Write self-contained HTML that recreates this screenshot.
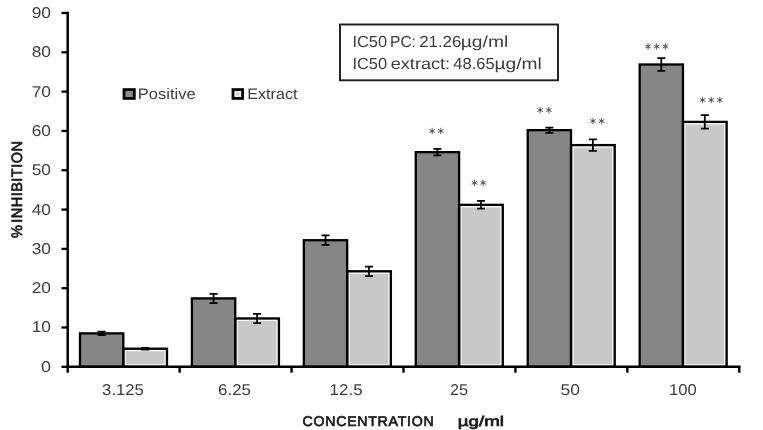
<!DOCTYPE html>
<html><head><meta charset="utf-8"><title>chart</title>
<style>html,body{margin:0;padding:0;background:#fff}svg{display:block;will-change:transform;filter:blur(0.4px)}text{font-family:"Liberation Sans",sans-serif;text-rendering:geometricPrecision}</style>
</head><body>
<svg width="763" height="430" viewBox="0 0 763 430">
<rect width="763" height="430" fill="#fff"/>
<rect x="80.00" y="333.39" width="43.30" height="33.41" fill="#868686"/>
<rect x="123.30" y="348.72" width="43.70" height="18.08" fill="#c8c8c8"/>
<rect x="125.15" y="350.57" width="40.00" height="14.38" fill="none" stroke="#f6f6f6" stroke-width="1.5"/>
<rect x="80.00" y="333.39" width="43.30" height="33.41" fill="none" stroke="#000" stroke-width="2.30"/>
<rect x="123.30" y="348.72" width="43.70" height="18.08" fill="none" stroke="#000" stroke-width="2.30"/>
<path d="M101.65 331.69V335.09M97.65 331.69h8M97.65 335.09h8" stroke="#000" stroke-width="1.75" fill="none"/>
<path d="M145.15 347.82V349.62M141.15 347.82h8M141.15 349.62h8" stroke="#000" stroke-width="1.75" fill="none"/>
<rect x="191.93" y="298.40" width="43.30" height="68.40" fill="#868686"/>
<rect x="235.23" y="318.45" width="43.70" height="48.35" fill="#c8c8c8"/>
<rect x="237.08" y="320.30" width="40.00" height="44.65" fill="none" stroke="#f6f6f6" stroke-width="1.5"/>
<rect x="191.93" y="298.40" width="43.30" height="68.40" fill="none" stroke="#000" stroke-width="2.30"/>
<rect x="235.23" y="318.45" width="43.70" height="48.35" fill="none" stroke="#000" stroke-width="2.30"/>
<path d="M213.58 293.80V303.00M209.58 293.80h8M209.58 303.00h8" stroke="#000" stroke-width="1.75" fill="none"/>
<path d="M257.08 313.75V323.15M253.08 313.75h8M253.08 323.15h8" stroke="#000" stroke-width="1.75" fill="none"/>
<rect x="303.86" y="240.22" width="43.30" height="126.58" fill="#868686"/>
<rect x="347.16" y="271.27" width="43.70" height="95.53" fill="#c8c8c8"/>
<rect x="349.01" y="273.12" width="40.00" height="91.83" fill="none" stroke="#f6f6f6" stroke-width="1.5"/>
<rect x="303.86" y="240.22" width="43.30" height="126.58" fill="none" stroke="#000" stroke-width="2.30"/>
<rect x="347.16" y="271.27" width="43.70" height="95.53" fill="none" stroke="#000" stroke-width="2.30"/>
<path d="M325.51 235.47V244.97M321.51 235.47h8M321.51 244.97h8" stroke="#000" stroke-width="1.75" fill="none"/>
<path d="M369.01 266.52V276.02M365.01 266.52h8M365.01 276.02h8" stroke="#000" stroke-width="1.75" fill="none"/>
<rect x="415.79" y="152.16" width="43.30" height="214.64" fill="#868686"/>
<rect x="459.09" y="204.84" width="43.70" height="161.96" fill="#c8c8c8"/>
<rect x="460.94" y="206.69" width="40.00" height="158.26" fill="none" stroke="#f6f6f6" stroke-width="1.5"/>
<rect x="415.79" y="152.16" width="43.30" height="214.64" fill="none" stroke="#000" stroke-width="2.30"/>
<rect x="459.09" y="204.84" width="43.70" height="161.96" fill="none" stroke="#000" stroke-width="2.30"/>
<path d="M437.44 148.91V155.41M433.44 148.91h8M433.44 155.41h8" stroke="#000" stroke-width="1.75" fill="none"/>
<path d="M480.94 200.94V208.74M476.94 200.94h8M476.94 208.74h8" stroke="#000" stroke-width="1.75" fill="none"/>
<rect x="527.72" y="130.15" width="43.30" height="236.65" fill="#868686"/>
<rect x="571.02" y="145.09" width="43.70" height="221.71" fill="#c8c8c8"/>
<rect x="572.87" y="146.94" width="40.00" height="218.01" fill="none" stroke="#f6f6f6" stroke-width="1.5"/>
<rect x="527.72" y="130.15" width="43.30" height="236.65" fill="none" stroke="#000" stroke-width="2.30"/>
<rect x="571.02" y="145.09" width="43.70" height="221.71" fill="none" stroke="#000" stroke-width="2.30"/>
<path d="M549.37 127.55V132.75M545.37 127.55h8M545.37 132.75h8" stroke="#000" stroke-width="1.75" fill="none"/>
<path d="M592.87 139.34V150.84M588.87 139.34h8M588.87 150.84h8" stroke="#000" stroke-width="1.75" fill="none"/>
<rect x="639.65" y="64.50" width="43.30" height="302.30" fill="#868686"/>
<rect x="682.95" y="121.89" width="43.70" height="244.91" fill="#c8c8c8"/>
<rect x="684.80" y="123.74" width="40.00" height="241.21" fill="none" stroke="#f6f6f6" stroke-width="1.5"/>
<rect x="639.65" y="64.50" width="43.30" height="302.30" fill="none" stroke="#000" stroke-width="2.30"/>
<rect x="682.95" y="121.89" width="43.70" height="244.91" fill="none" stroke="#000" stroke-width="2.30"/>
<path d="M661.30 58.20V70.80M657.30 58.20h8M657.30 70.80h8" stroke="#000" stroke-width="1.75" fill="none"/>
<path d="M704.80 115.09V128.69M700.80 115.09h8M700.80 128.69h8" stroke="#000" stroke-width="1.75" fill="none"/>
<path d="M67.70 11.75V368.05M66.45 366.80H740.53" stroke="#000" stroke-width="2.50" fill="none"/>
<path d="M61.50 366.80H67.70" stroke="#000" stroke-width="2.3"/>
<text x="41.08" y="371.80" font-size="15.6" fill="#3e3e3e" textLength="10.01" lengthAdjust="spacingAndGlyphs">0</text>
<path d="M61.50 327.49H67.70" stroke="#000" stroke-width="2.3"/>
<text x="31.67" y="332.49" font-size="15.6" fill="#3e3e3e" textLength="19.31" lengthAdjust="spacingAndGlyphs">10</text>
<path d="M61.50 288.18H67.70" stroke="#000" stroke-width="2.3"/>
<text x="31.67" y="293.18" font-size="15.6" fill="#3e3e3e" textLength="19.31" lengthAdjust="spacingAndGlyphs">20</text>
<path d="M61.50 248.87H67.70" stroke="#000" stroke-width="2.3"/>
<text x="31.67" y="253.87" font-size="15.6" fill="#3e3e3e" textLength="19.31" lengthAdjust="spacingAndGlyphs">30</text>
<path d="M61.50 209.56H67.70" stroke="#000" stroke-width="2.3"/>
<text x="31.67" y="214.56" font-size="15.6" fill="#3e3e3e" textLength="19.31" lengthAdjust="spacingAndGlyphs">40</text>
<path d="M61.50 170.24H67.70" stroke="#000" stroke-width="2.3"/>
<text x="31.67" y="175.24" font-size="15.6" fill="#3e3e3e" textLength="19.31" lengthAdjust="spacingAndGlyphs">50</text>
<path d="M61.50 130.93H67.70" stroke="#000" stroke-width="2.3"/>
<text x="31.67" y="135.93" font-size="15.6" fill="#3e3e3e" textLength="19.31" lengthAdjust="spacingAndGlyphs">60</text>
<path d="M61.50 91.62H67.70" stroke="#000" stroke-width="2.3"/>
<text x="31.67" y="96.62" font-size="15.6" fill="#3e3e3e" textLength="19.31" lengthAdjust="spacingAndGlyphs">70</text>
<path d="M61.50 52.31H67.70" stroke="#000" stroke-width="2.3"/>
<text x="31.67" y="57.31" font-size="15.6" fill="#3e3e3e" textLength="19.31" lengthAdjust="spacingAndGlyphs">80</text>
<path d="M61.50 13.00H67.70" stroke="#000" stroke-width="2.3"/>
<text x="31.67" y="18.00" font-size="15.6" fill="#3e3e3e" textLength="19.31" lengthAdjust="spacingAndGlyphs">90</text>
<path d="M67.70 366.80V372.70" stroke="#000" stroke-width="2.4"/>
<path d="M179.63 366.80V372.70" stroke="#000" stroke-width="2.4"/>
<path d="M291.56 366.80V372.70" stroke="#000" stroke-width="2.4"/>
<path d="M403.49 366.80V372.70" stroke="#000" stroke-width="2.4"/>
<path d="M515.42 366.80V372.70" stroke="#000" stroke-width="2.4"/>
<path d="M627.35 366.80V372.70" stroke="#000" stroke-width="2.4"/>
<path d="M739.28 366.80V372.70" stroke="#000" stroke-width="2.4"/>
<text x="102.13" y="394.80" font-size="15.6" fill="#3e3e3e" textLength="41.67" lengthAdjust="spacingAndGlyphs">3.125</text>
<text x="218.09" y="394.80" font-size="15.6" fill="#3e3e3e" textLength="32.87" lengthAdjust="spacingAndGlyphs">6.25</text>
<text x="329.64" y="394.80" font-size="15.6" fill="#3e3e3e" textLength="32.92" lengthAdjust="spacingAndGlyphs">12.5</text>
<text x="449.92" y="394.80" font-size="15.6" fill="#3e3e3e" textLength="18.12" lengthAdjust="spacingAndGlyphs">25</text>
<text x="560.50" y="394.80" font-size="15.6" fill="#3e3e3e" textLength="19.38" lengthAdjust="spacingAndGlyphs">50</text>
<text x="668.97" y="394.80" font-size="15.6" fill="#3e3e3e" textLength="27.73" lengthAdjust="spacingAndGlyphs">100</text>
<circle cx="432.18" cy="131.00" r="1.0" fill="#4a4a4a"/>
<circle cx="440.82" cy="131.00" r="1.0" fill="#4a4a4a"/>
<path d="M432.18 127.80L432.18 134.20M429.40 129.40L434.95 132.60M434.95 129.40L429.40 132.60M440.82 127.80L440.82 134.20M438.05 129.40L443.60 132.60M443.60 129.40L438.05 132.60" stroke="#505050" stroke-width="0.95" fill="none"/>
<circle cx="474.48" cy="182.80" r="1.0" fill="#4a4a4a"/>
<circle cx="483.12" cy="182.80" r="1.0" fill="#4a4a4a"/>
<path d="M474.48 179.60L474.48 186.00M471.70 181.20L477.25 184.40M477.25 181.20L471.70 184.40M483.12 179.60L483.12 186.00M480.35 181.20L485.90 184.40M485.90 181.20L480.35 184.40" stroke="#505050" stroke-width="0.95" fill="none"/>
<circle cx="540.17" cy="110.10" r="1.0" fill="#4a4a4a"/>
<circle cx="548.83" cy="110.10" r="1.0" fill="#4a4a4a"/>
<path d="M540.17 106.90L540.17 113.30M537.40 108.50L542.95 111.70M542.95 108.50L537.40 111.70M548.83 106.90L548.83 113.30M546.05 108.50L551.60 111.70M551.60 108.50L546.05 111.70" stroke="#505050" stroke-width="0.95" fill="none"/>
<circle cx="592.97" cy="121.10" r="1.0" fill="#4a4a4a"/>
<circle cx="601.62" cy="121.10" r="1.0" fill="#4a4a4a"/>
<path d="M592.97 117.90L592.97 124.30M590.20 119.50L595.75 122.70M595.75 119.50L590.20 122.70M601.62 117.90L601.62 124.30M598.85 119.50L604.40 122.70M604.40 119.50L598.85 122.70" stroke="#505050" stroke-width="0.95" fill="none"/>
<circle cx="648.05" cy="46.50" r="1.0" fill="#4a4a4a"/>
<circle cx="656.70" cy="46.50" r="1.0" fill="#4a4a4a"/>
<circle cx="665.35" cy="46.50" r="1.0" fill="#4a4a4a"/>
<path d="M648.05 43.30L648.05 49.70M645.28 44.90L650.82 48.10M650.82 44.90L645.28 48.10M656.70 43.30L656.70 49.70M653.93 44.90L659.47 48.10M659.47 44.90L653.93 48.10M665.35 43.30L665.35 49.70M662.58 44.90L668.12 48.10M668.12 44.90L662.58 48.10" stroke="#505050" stroke-width="0.95" fill="none"/>
<circle cx="702.55" cy="100.00" r="1.0" fill="#4a4a4a"/>
<circle cx="711.20" cy="100.00" r="1.0" fill="#4a4a4a"/>
<circle cx="719.85" cy="100.00" r="1.0" fill="#4a4a4a"/>
<path d="M702.55 96.80L702.55 103.20M699.78 98.40L705.32 101.60M705.32 98.40L699.78 101.60M711.20 96.80L711.20 103.20M708.43 98.40L713.97 101.60M713.97 98.40L708.43 101.60M719.85 96.80L719.85 103.20M717.08 98.40L722.62 101.60M722.62 98.40L717.08 101.60" stroke="#505050" stroke-width="0.95" fill="none"/>
<rect x="124" y="89.6" width="10.3" height="8.8" fill="#8a8a8a" stroke="#000" stroke-width="2.8"/>
<rect x="233" y="89.6" width="9.6" height="8.8" fill="#f0f0f0" stroke="#000" stroke-width="2.8"/>
<rect x="236.1" y="92.7" width="3.4" height="2.6" fill="#cfcfcf"/>
<text x="137.84" y="99.00" font-size="15.2" fill="#3e3e3e" textLength="57.81" lengthAdjust="spacingAndGlyphs">Positive</text>
<text x="247.27" y="99.00" font-size="15.2" fill="#3e3e3e" textLength="50.18" lengthAdjust="spacingAndGlyphs">Extract</text>
<rect x="340" y="24.5" width="218" height="55.8" fill="#fff" stroke="#1c1c1c" stroke-width="1.9"/>
<text x="352.46" y="47.00" font-size="16" fill="#3e3e3e" textLength="34.63" lengthAdjust="spacingAndGlyphs">IC50</text>
<text x="390.07" y="47.00" font-size="16" fill="#3e3e3e" textLength="25.81" lengthAdjust="spacingAndGlyphs">PC:</text>
<text x="419.21" y="47.00" font-size="16" fill="#3e3e3e" textLength="42.09" lengthAdjust="spacingAndGlyphs">21.26</text>
<text x="460.74" y="47.00" font-size="16" fill="#3e3e3e" textLength="47.56" lengthAdjust="spacingAndGlyphs">µg/ml</text>
<text x="352.46" y="69.00" font-size="16" fill="#3e3e3e" textLength="34.63" lengthAdjust="spacingAndGlyphs">IC50</text>
<text x="390.69" y="69.00" font-size="16" fill="#3e3e3e" textLength="59.47" lengthAdjust="spacingAndGlyphs">extract:</text>
<text x="453.31" y="69.00" font-size="16" fill="#3e3e3e" textLength="41.38" lengthAdjust="spacingAndGlyphs">48.65</text>
<text x="494.55" y="69.00" font-size="16" fill="#3e3e3e" textLength="47.34" lengthAdjust="spacingAndGlyphs">µg/ml</text>
<text x="302.59" y="425.60" font-size="14" fill="#1a1a1a" stroke="#1a1a1a" stroke-width="0.70" stroke-linejoin="round" letter-spacing="0.7" textLength="131.78" lengthAdjust="spacingAndGlyphs">CONCENTRATION</text>
<text x="457.81" y="425.60" font-size="14" fill="#1a1a1a" stroke="#1a1a1a" stroke-width="0.70" stroke-linejoin="round" textLength="46.13" lengthAdjust="spacingAndGlyphs">µg/ml</text>
<g transform="translate(22.2 237.8) rotate(-90)">
<text x="-0.14" y="0.00" font-size="15" fill="#1a1a1a" stroke="#1a1a1a" stroke-width="0.70" stroke-linejoin="round" textLength="12.96" lengthAdjust="spacingAndGlyphs">%</text>
<text x="15.02" y="0.00" font-size="15" fill="#1a1a1a" stroke="#1a1a1a" stroke-width="0.70" stroke-linejoin="round" letter-spacing="0.5" textLength="82.24" lengthAdjust="spacingAndGlyphs">INHIBITION</text>
</g>
</svg>
</body></html>
